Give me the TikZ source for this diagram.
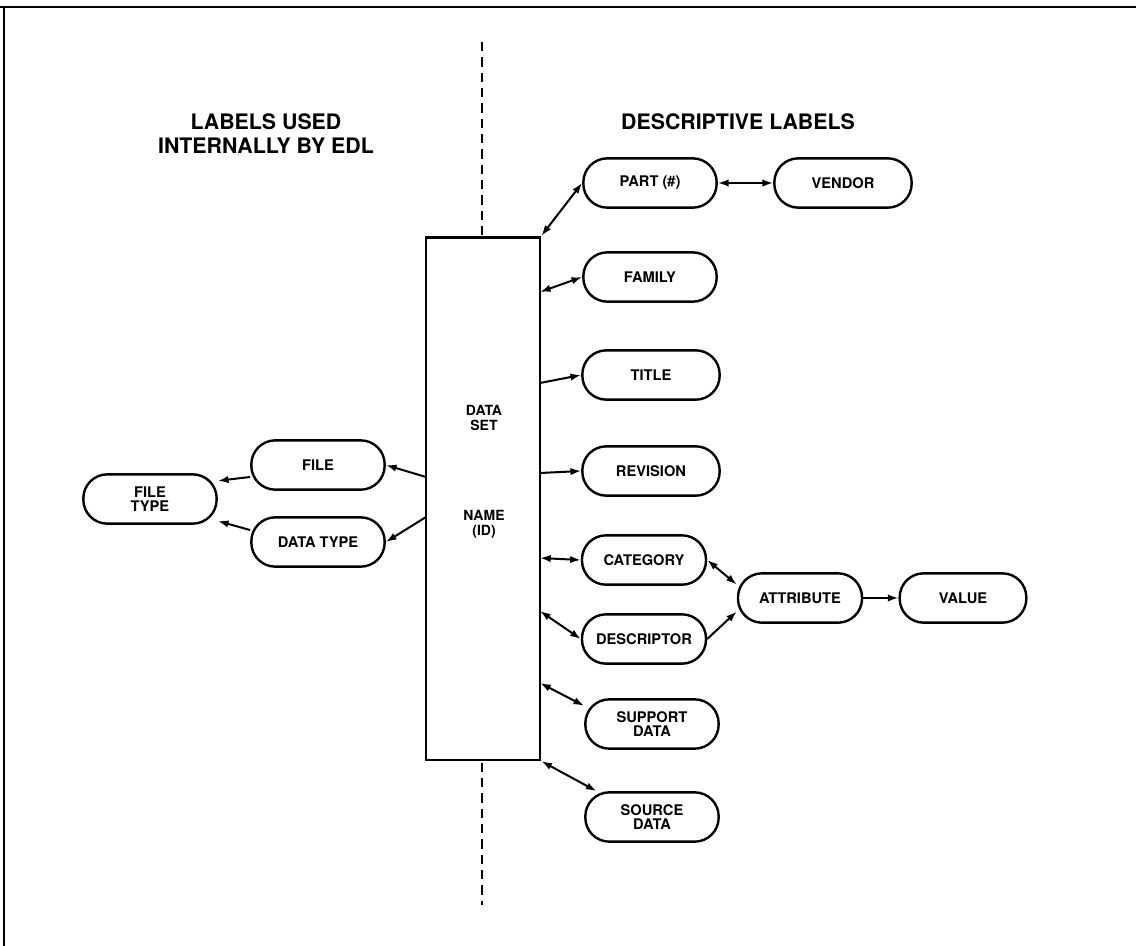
\documentclass[tikz,border=0pt]{standalone}
\usepackage{fontspec}
\setmainfont{TeX Gyre Heros}
\usetikzlibrary{arrows.meta}

\begin{document}
\begin{tikzpicture}[x=0.75pt, y=-0.75pt,
    labelbox/.style={draw, line width=1.8pt, rounded corners=18pt,
        minimum width=100pt, minimum height=37pt, inner sep=0pt, align=center,
        font=\fontsize{11}{11}\selectfont\bfseries},
    narrow/.style={minimum width=93pt},
    heading/.style={align=center, font=\fontsize{16}{18}\selectfont\bfseries},
    boxtext/.style={align=center, font=\fontsize{10.5}{11}\selectfont\bfseries},
    onearrow/.style={line width=1.5pt, -{Latex[length=8pt,width=5.5pt]}},
    twoarrow/.style={line width=1.5pt, {Latex[length=8pt,width=5.5pt]}-{Latex[length=8pt,width=5.5pt]}}]

    \useasboundingbox (0,0) rectangle (1136,946);

    % Frame
    \draw[line width=2pt] (0,7) -- (1136,7);
    \draw[line width=2pt] (4,7) -- (4,946);

    % Dividing line
    \draw[dashed, line width=1.2pt, dash pattern=on 7pt off 4.5pt] (482,42) -- (482,905);

    % Headings
    \node[heading] (hleft) at (266,134) {LABELS USED\\INTERNALLY BY EDL};
    \node[heading] (hright) at (738,122) {DESCRIPTIVE LABELS};

    % Data set box
    \node[draw, fill=white, line width=2pt, minimum width=85.5pt, minimum height=392pt,
        inner sep=0pt] (dataset) at (483,498.5) {};
    \node[boxtext] (dsname) at (484,418) {DATA\\SET};
    \node[boxtext] (dsid) at (484,524) {NAME\\(ID)};

    % Points on the box
    \coordinate (dsFamily) at (540,292);
    \coordinate (dsTitle) at (540,383);
    \coordinate (dsRevision) at (540,473);
    \coordinate (dsCategory) at (540,558);
    \coordinate (dsDescriptor) at (540,611);
    \coordinate (dsSupport) at (540,683);
    \coordinate (dsFile) at (426,477);
    \coordinate (dsDataType) at (426,517);

    % Descriptive labels
    \node[labelbox] (part) at (650,183) {PART (\#)};
    \node[labelbox, minimum width=103pt] (vendor) at (843,183) {VENDOR};
    \node[labelbox] (family) at (650,277) {FAMILY};
    \node[labelbox, minimum width=103pt] (title) at (651,375) {TITLE};
    \node[labelbox, minimum width=103pt] (revision) at (651,471) {REVISION};
    \node[labelbox, narrow] (category) at (644,560) {CATEGORY};
    \node[labelbox, narrow] (descriptor) at (644,639) {DESCRIPTOR};
    \node[labelbox, narrow] (attribute) at (800,598) {ATTRIBUTE};
    \node[labelbox, narrow, minimum width=95pt] (value) at (963,598) {VALUE};
    \node[labelbox] (support) at (652,724) {SUPPORT\\DATA};
    \node[labelbox] (source) at (652,817) {SOURCE\\DATA};

    % Internal labels
    \node[labelbox] (file) at (318,465) {FILE};
    \node[labelbox] (datatype) at (318,542) {DATA TYPE};
    \node[labelbox] (filetype) at (150,499) {FILE\\TYPE};

    % Links to the right
    \draw[twoarrow] (dataset.north east) -- (part.west);
    \draw[twoarrow] (part.east) -- (vendor.west);
    \draw[twoarrow] (dsFamily) -- (family.west);
    \draw[onearrow] (dsTitle) -- (title.west);
    \draw[onearrow] (dsRevision) -- (revision.west);
    \draw[twoarrow] (dsCategory) -- (category.west);
    \draw[twoarrow] (dsDescriptor) -- (descriptor.west);
    \draw[twoarrow] (dsSupport) -- (support.165);
    \draw[twoarrow] (dataset.south east) -- (source.155);

    % Attribute and value
    \draw[twoarrow] (category.east) -- (attribute.168);
    \draw[onearrow] (descriptor.east) -- (attribute.192);
    \draw[onearrow] (attribute.east) -- (value.west);

    % Links to the left
    \draw[onearrow] (dsFile) -- (file.east);
    \draw[onearrow] (dsDataType) -- (datatype.east);
    \draw[onearrow] (file.190) -- (filetype.15);
    \draw[onearrow] (datatype.170) -- (filetype.-18);

\end{tikzpicture}
\end{document}
